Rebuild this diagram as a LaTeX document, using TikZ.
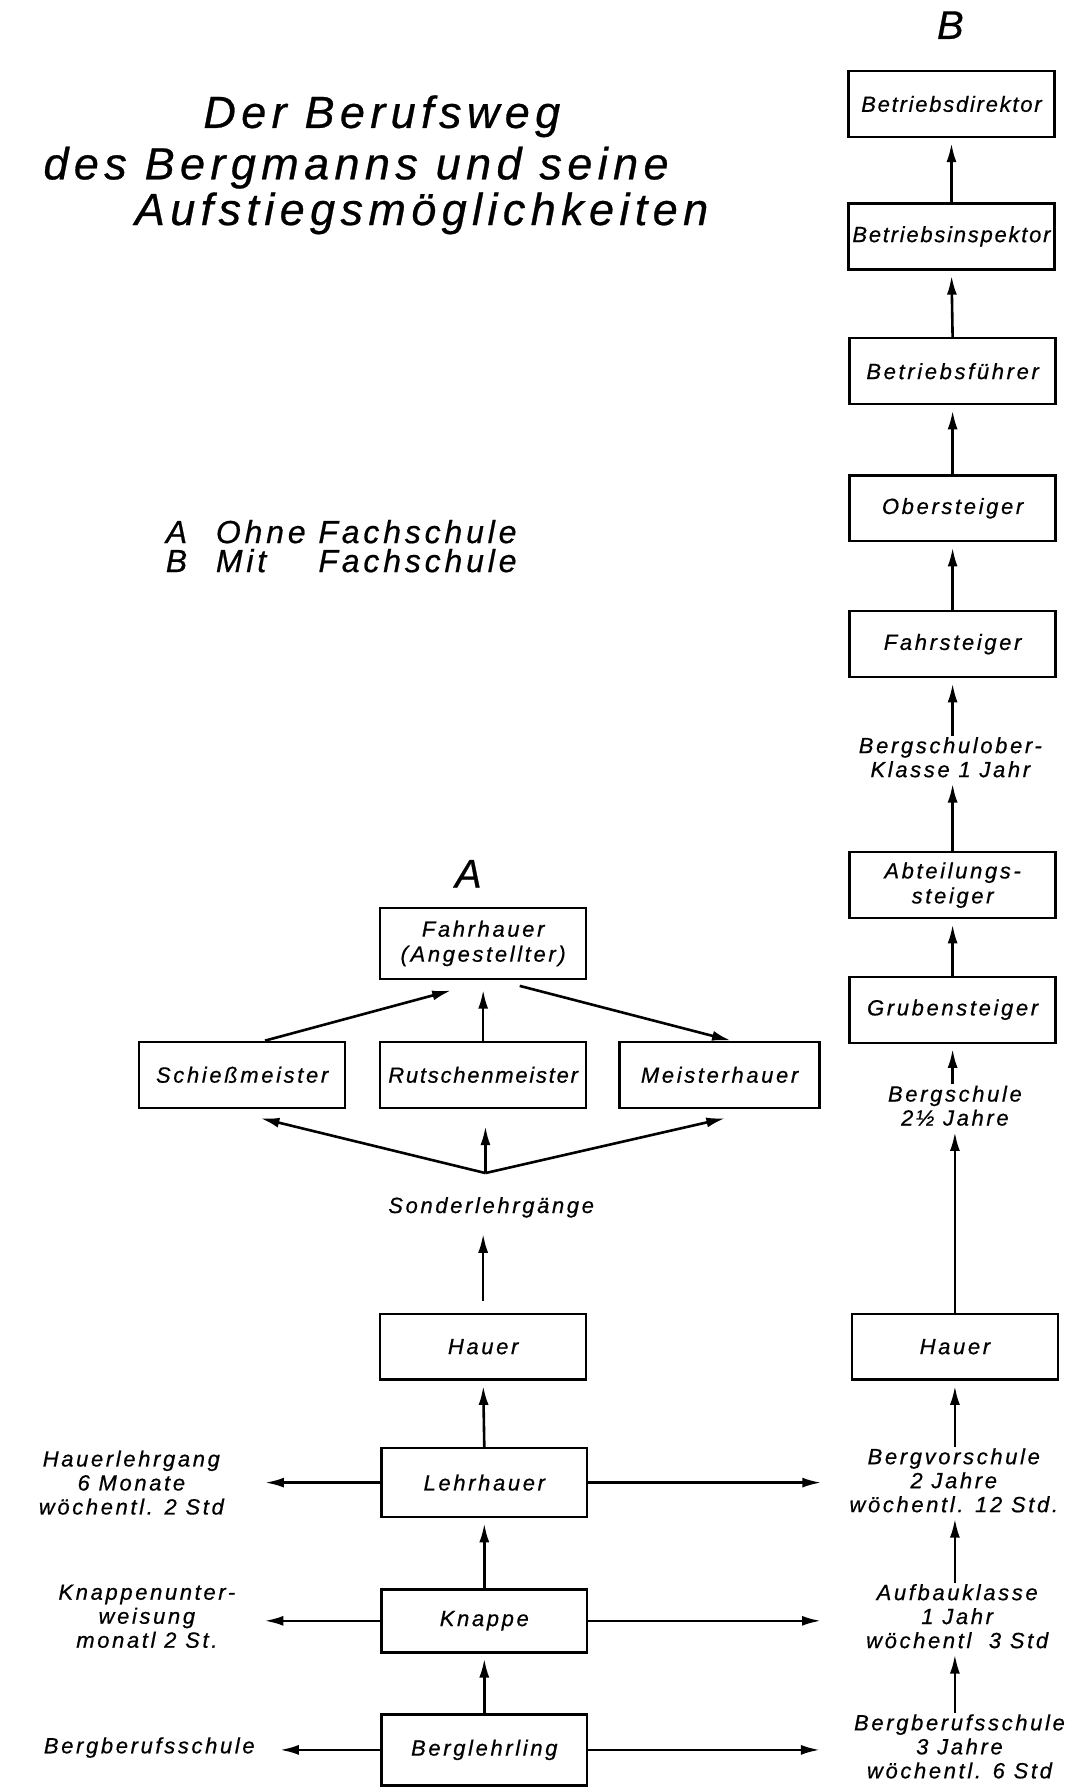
\documentclass[tikz,border=0pt]{standalone}
\usepackage{fontspec}
\setmainfont{Liberation Sans}[LetterSpace=12,FakeBold=0.6]
\usetikzlibrary{arrows.meta,calc}
\begin{document}
\begin{tikzpicture}[x=1.1427pt,y=-1.1427pt,
  every node/.style={font=\itshape},
  box/.style={draw,line width=2.4pt,minimum width=206pt,minimum height=66pt,
    inner sep=0pt,align=center,font=\itshape\fontsize{22}{25}\selectfont},
  tight/.style={font=\itshape\fontsize{22}{25}\selectfont\addfontfeature{LetterSpace=8}},
  note/.style={align=center,inner sep=1pt,font=\itshape\fontsize{22}{24}\selectfont},
  arr/.style={line width=2.6pt,-{Latex[length=19pt,width=10pt]},shorten >=5pt},
  ]
\useasboundingbox (0,0) rectangle (946,1568);

% title and legend
\node[anchor=base west,font=\itshape\fontsize{45}{50}\selectfont] (t1) at (175,112) {Der Berufsweg};
\node[anchor=base west,font=\itshape\fontsize{45}{50}\selectfont] (t2) at (35,157) {des Bergmanns und seine};
\node[anchor=base west,font=\itshape\fontsize{45}{50}\selectfont] (t3) at (115,197) {Aufstiegsmöglichkeiten};
\node[anchor=north west,align=left,inner sep=0pt,font=\itshape\fontsize{32}{29}\selectfont] (legend) at (145,455)
  {A\hspace{0.9em}Ohne Fachschule\\B\hspace{0.9em}\rlap{Mit}\phantom{Ohne} Fachschule};

% column B
\node[font=\itshape\fontsize{40}{40}\selectfont] (labB) at (832,22) {B};
\node[box,tight] (dir)   at (833,91)  {Betriebsdirektor};
\node[box,tight] (insp)  at (833,207) {Betriebsinspektor};
\node[box] (fuehr) at (834,325) {Betriebsführer};
\node[box] (ober)  at (834,445) {Obersteiger};
\node[box] (fahr)  at (834,564) {Fahrsteiger};
\node[note] (bso)  at (832,663) {Bergschulober-\\Klasse 1 Jahr};
\node[box] (abt)   at (834,775) {Abteilungs-\\steiger};
\node[box] (grub)  at (834,884) {Grubensteiger};
\node[note] (bs)   at (836,968) {Bergschule\\2½ Jahre};
\node[box] (hauerB) at (836,1179) {Hauer};
\node[note] (bvs)  at (835,1296) {Bergvorschule\\2 Jahre\\wöchentl. 12 Std.};
\node[note] (auf)  at (838,1415) {Aufbauklasse\\1 Jahr\\wöchentl \ 3 Std};
\node[note] (bbs)  at (840,1529) {Bergberufsschule\\3 Jahre\\wöchentl. 6 Std};

\draw[arr] (insp.north) -- (dir.south);
\draw[arr] (fuehr.north) -- (insp.south);
\draw[arr] (ober.north) -- (fuehr.south);
\draw[arr] (fahr.north) -- (ober.south);
\draw[arr] (bso.north -| fahr.south) -- (fahr.south);
\draw[arr] (abt.north) -- (abt.north |- bso.south);
\draw[arr] (grub.north) -- (abt.south);
\draw[arr] (bs.north -| grub.south) -- (grub.south);
\draw[arr] (hauerB.north) -- (hauerB.north |- bs.south);
\draw[arr] (bvs.north -| hauerB.south) -- (hauerB.south);
\draw[arr] (auf.north -| hauerB.south) -- (hauerB.south |- bvs.south);
\draw[arr] (bbs.north -| hauerB.south) -- (hauerB.south |- auf.south);

% column A
\node[font=\itshape\fontsize{40}{40}\selectfont] (labA) at (410,765) {A};
\node[box,minimum height=71pt] (fahrh) at (423,826) {Fahrhauer\\(Angestellter)};
\node[box] (schiess) at (212,941) {Schießmeister};
\node[box,tight] (rutsch)  at (423,941) {Rutschenmeister};
\node[box,minimum width=200pt] (meister) at (630,941) {Meisterhauer};
\coordinate (j) at (425,1027);
\node[note] (sonder) at (430,1057) {Sonderlehrgänge};
\node[box] (hauerA) at (423,1179) {Hauer};
\node[box,minimum height=69pt] (lehr)   at (424,1298) {Lehrhauer};
\node[box,minimum height=63pt] (knappe) at (424,1419) {Knappe};
\node[box,minimum height=71pt] (bergl)  at (424,1532) {Berglehrling};

\draw[arr,shorten >=0pt] ($(schiess.north)+(20,0)$) -- ($(fahrh.south)+(-28,9)$);
\draw[arr] (rutsch.north) -- ($(fahrh.south)+(0,4)$);
\draw[arr,shorten >=0pt] ($(fahrh.south)+(32,5)$) -- ($(meister.north)+(10,0)$);
\draw[arr,shorten >=0pt] (j) -- ($(schiess.south)+(16,8)$);
\draw[arr,shorten >=0pt] (j) -- ($(rutsch.south)+(2,15)$);
\draw[arr,shorten >=0pt] (j) -- ($(meister.south)+(5,8)$);
\draw[arr,shorten >=15pt] ($(hauerA.north)+(0,-10)$) -- (hauerA.north |- sonder.south);
\draw[arr] (lehr.north) -- (hauerA.south);
\draw[arr] (knappe.north) -- (lehr.south);
\draw[arr] (bergl.north) -- (knappe.south);

% side notes of column A
\node[note,anchor=east] (hl) at (197,1298) {Hauerlehrgang\\6 Monate\\wöchentl. 2 Std};
\node[note,anchor=east] (ku) at (207,1415) {Knappenunter-\\weisung\\monatl 2 St.};
\node[note,anchor=east] (bbsL) at (224,1530) {Bergberufsschule};

\draw[arr,shorten >=40pt] (lehr.west) -- (lehr.west -| hl.east);
\draw[arr,shorten >=28pt] (knappe.west) -- (knappe.west -| ku.east);
\draw[arr,shorten >=24pt] (bergl.west) -- (bergl.west -| bbsL.east);
\draw[arr,shorten >=27pt] (lehr.east) -- (lehr.east -| bvs.west);
\draw[arr,shorten >=44pt] (knappe.east) -- (knappe.east -| auf.west);
\draw[arr,shorten >=33pt] (bergl.east) -- (bergl.east -| bbs.west);
\end{tikzpicture}
\end{document}
